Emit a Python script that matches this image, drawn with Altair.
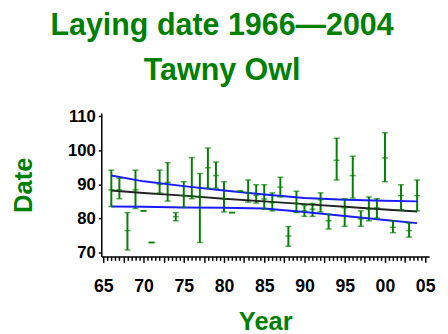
import altair as alt
import pandas as pd

# ---- data ----
years = list(range(1966, 2005))
means = [88.4, 88.4, 76.4, 88.4, 82.2, 72.9, 90.0, 90.6, 80.5, 86.7,
         86.5, 86.3, 94.9, 92.6, 85.8, 81.7, 88.0, 87.5, 86.8, 85.7,
         84.6, 89.2, 74.8, 84.4, 82.2, 82.7, 85.5, 79.3, 97.1, 83.1,
         92.6, 79.8, 82.7, 83.1, 97.8, 77.4, 86.7, 76.4, 86.7]
lows = [83.5, 85.8, 70.7, 82.9, 82.2, 72.9, 87.5, 85.1, 79.3, 83.2,
        85.8, 72.9, 88.9, 88.9, 81.9, 81.7, 88.0, 84.8, 84.5, 82.7,
        82.2, 86.3, 71.8, 81.7, 80.6, 80.6, 81.9, 76.9, 91.3, 77.7,
        86.0, 77.7, 79.3, 80.1, 90.8, 75.8, 82.5, 74.5, 82.2]
highs = [94.2, 91.8, 81.7, 94.2, 82.2, 72.9, 94.2, 96.4, 81.7, 90.8,
         97.9, 93.2, 100.7, 96.6, 90.8, 81.7, 88.0, 91.3, 89.9, 89.9,
         87.5, 92.1, 77.6, 88.0, 83.8, 84.4, 87.5, 81.2, 103.6, 85.8,
         98.3, 82.2, 86.3, 85.8, 105.2, 79.3, 89.9, 78.6, 91.3]

band_years = [1966, 1970, 1975, 1980, 1985, 1990, 1995, 2000, 2004]
fit = [88.2, 87.5, 86.7, 85.8, 85.0, 84.2, 83.4, 82.6, 82.0]
upper = [92.6, 90.9, 89.5, 88.2, 87.0, 86.0, 85.5, 85.2, 85.0]
lower = [83.5, 83.4, 83.2, 83.1, 82.9, 81.9, 80.7, 79.5, 78.6]

x_ticks = [1965 + 0.5 * i for i in range(81)]
y_ticks = [70, 80, 90, 100, 110]

title_lines = ["Laying date 1966\u20142004", "Tawny Owl"]

df = pd.DataFrame({"year": years, "mean": means, "low": lows, "high": highs})
bf = pd.DataFrame({"year": band_years, "fit": fit, "upper": upper, "lower": lower})

GREEN = "#008000"
FONT = "Liberation Sans"

xscale = alt.Scale(domain=[1964.75, 2005.5], nice=False, zero=False)
yscale = alt.Scale(domain=[68.8, 111], nice=False, zero=False)

x_axis = alt.Axis(
    orient="bottom", values=x_ticks,
    tickSize={"condition": {"test": "datum.value % 2.5 == 0", "value": 6}, "value": 4},
    tickWidth=1.5, tickColor="black",
    domainColor="black", domainWidth=1.5,
    labelExpr="datum.value % 5 == 0 ? substring('' + datum.value, 2, 4) : ''",
    labelOverlap=False, labelFlush=False, labelFont=FONT, labelFontSize=18,
    labelFontWeight="bold", labelColor="black", labelPadding=16,
    title="Year", titleFont=FONT, titleFontSize=26, titleFontWeight="bold",
    titleColor=GREEN, titleY=74, titleBaseline="alphabetic", grid=False,
)
y_axis = alt.Axis(
    values=y_ticks, tickSize=3, tickWidth=1.5, tickColor="black",
    domainColor="black", domainWidth=1.5, labelOverlap=False,
    labelFont=FONT, labelFontSize=17, labelFontWeight="bold", labelColor="black",
    labelPadding=3, title="Date", titleFont=FONT, titleFontSize=26,
    titleFontWeight="bold", titleColor=GREEN, titleAngle=-90, titleX=-79, titleY=73,
    titleAlign="center", titleBaseline="middle", grid=False,
)


def X():
    return alt.X("year:Q", scale=xscale, axis=x_axis)


def Y(field):
    return alt.Y(field + ":Q", scale=yscale, axis=y_axis)


base = alt.Chart(df)
bars = base.mark_rule(color=GREEN, strokeWidth=2).encode(
    x=X(), y=Y("low"), y2="high:Q")
cap_lo = base.mark_tick(color=GREEN, orient="horizontal", size=6, thickness=1.5).encode(
    x=X(), y=Y("low"))
cap_hi = base.mark_tick(color=GREEN, orient="horizontal", size=6, thickness=1.5).encode(
    x=X(), y=Y("high"))
mid = base.mark_tick(color=GREEN, orient="horizontal", size=6, thickness=1.5).encode(
    x=X(), y=Y("mean"))

bbase = alt.Chart(bf)
fit_line = bbase.mark_line(color="#222222", strokeWidth=2).encode(x=X(), y=Y("fit"))
up_line = bbase.mark_line(color="#1a1aff", strokeWidth=2).encode(x=X(), y=Y("upper"))
lo_line = bbase.mark_line(color="#1a1aff", strokeWidth=2).encode(x=X(), y=Y("lower"))

chart = alt.layer(
    bars, up_line, lo_line, fit_line, cap_lo, cap_hi, mid
).properties(
    width=334, height=146,
    autosize=alt.AutoSizeParams(type="none"),
    padding={"left": 95, "top": 104, "right": 11, "bottom": 76},
    title=alt.Title(
        title_lines, font=FONT, fontSize=31, fontWeight="bold", color=GREEN,
        lineHeight=46, anchor="middle", dx=-44, offset=21,
    ),
    background="white",
).configure_view(stroke=None)

chart.save("out.html", embed_options={"renderer": "svg", "actions": False})
